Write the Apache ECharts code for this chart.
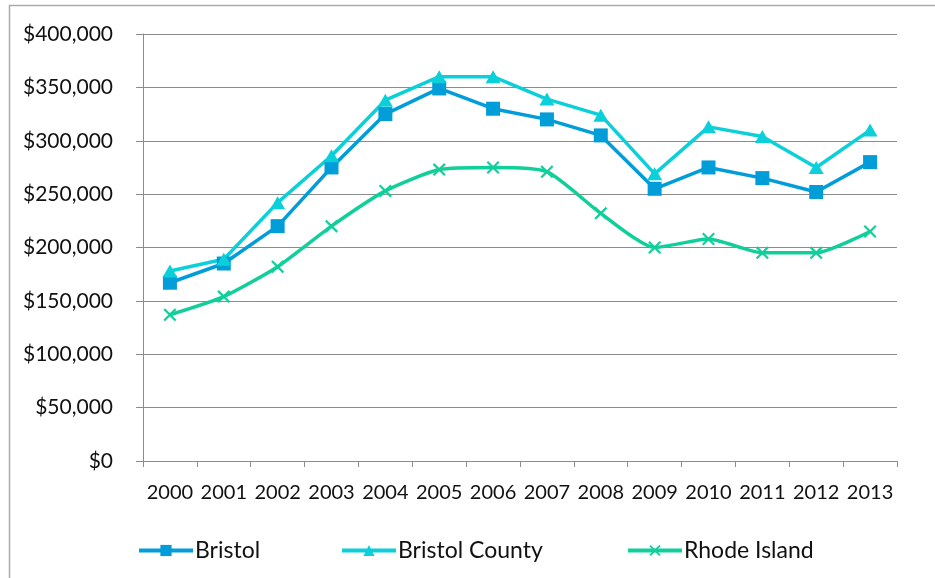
<!DOCTYPE html>
<html>
<head>
<meta charset="utf-8">
<script src="https://cdn.jsdelivr.net/npm/echarts@6/dist/echarts.min.js"></script>
<style>
  html, body { margin: 0; padding: 0; background: #fff; }
  #chart { width: 935px; height: 578px; }
</style>
</head>
<body>
<div id="chart"></div>
<script>
// Median home prices by year
const years = ['2000','2001','2002','2003','2004','2005','2006','2007','2008','2009','2010','2011','2012','2013'];
const bristol = [167000,185000,220000,275000,325000,349000,330000,320000,305000,255000,275000,265000,252000,280000];
const bristolCounty = [178000,189000,242000,286000,338000,360000,360000,339000,324000,269000,313000,304000,275000,310000];
const rhodeIsland = [137000,154000,182000,220000,253000,273000,275000,271000,232000,200000,208000,195000,195000,215000];
const yTicks = { min: 0, max: 400000, step: 50000 };
const seriesNames = ['Bristol', 'Bristol County', 'Rhode Island'];

const FONT = 'Lato';
const TEXT = '#111';
const GRID = '#8c8c8c';

// thin "x" marker built from two crossing bars
const crossSymbol = 'path://M0,1.2L1.2,0L10,8.8L8.8,10Z M8.8,0L10,1.2L1.2,10L0,8.8Z';

const fmtMoney = v => '$' + v.toLocaleString('en-US');

// one legend block per series so each entry sits at its own spot
const legendLefts = [132, 335, 621];
const legends = seriesNames.map((name, i) => ({
  left: legendLefts[i], top: 534,
  itemWidth: 54, itemHeight: 14,
  lineStyle: { width: 4 },
  textStyle: { fontFamily: FONT, fontSize: 23, color: TEXT, padding: [0, 0, 0, -3] },
  data: [name]
}));

const chart = echarts.init(document.getElementById('chart'), null, { renderer: 'canvas' });
chart.setOption({
  animation: false,
  backgroundColor: '#fff',
  graphic: [{
    type: 'rect',
    shape: { x: 9.5, y: 5.5, width: 960, height: 620 },
    style: { fill: 'none', stroke: '#ababab', lineWidth: 1.5 },
    silent: true
  }],
  grid: { left: 143, right: 38, top: 34, bottom: 117 },
  legend: legends,
  xAxis: {
    type: 'category',
    data: years,
    boundaryGap: true,
    axisLine: { lineStyle: { color: GRID, width: 1 } },
    axisTick: { show: true, length: 6, lineStyle: { color: GRID } },
    axisLabel: { fontFamily: FONT, fontSize: 20, color: TEXT, margin: 22, interval: 0 }
  },
  yAxis: {
    type: 'value',
    min: yTicks.min, max: yTicks.max, interval: yTicks.step,
    axisLine: { show: true, lineStyle: { color: GRID, width: 1 } },
    axisTick: { show: true, length: 7, lineStyle: { color: GRID } },
    splitLine: { lineStyle: { color: GRID, width: 1 } },
    axisLabel: { fontFamily: FONT, fontSize: 21, color: TEXT, margin: 30, formatter: fmtMoney }
  },
  series: [
    {
      name: seriesNames[0], type: 'line', data: bristol,
      symbol: 'rect', symbolSize: 14,
      lineStyle: { color: '#009DD9', width: 3.5 },
      itemStyle: { color: '#009DD9' }
    },
    {
      name: seriesNames[1], type: 'line', data: bristolCounty,
      symbol: 'triangle', symbolSize: [15, 13],
      lineStyle: { color: '#0BD0D9', width: 3.5 },
      itemStyle: { color: '#0BD0D9' }
    },
    {
      name: seriesNames[2], type: 'line', data: rhodeIsland,
      smooth: 0.2,
      symbol: crossSymbol, symbolSize: 13,
      lineStyle: { color: '#10CF9B', width: 3.5 },
      itemStyle: { color: '#10CF9B' }
    }
  ]
});
</script>
</body>
</html>
